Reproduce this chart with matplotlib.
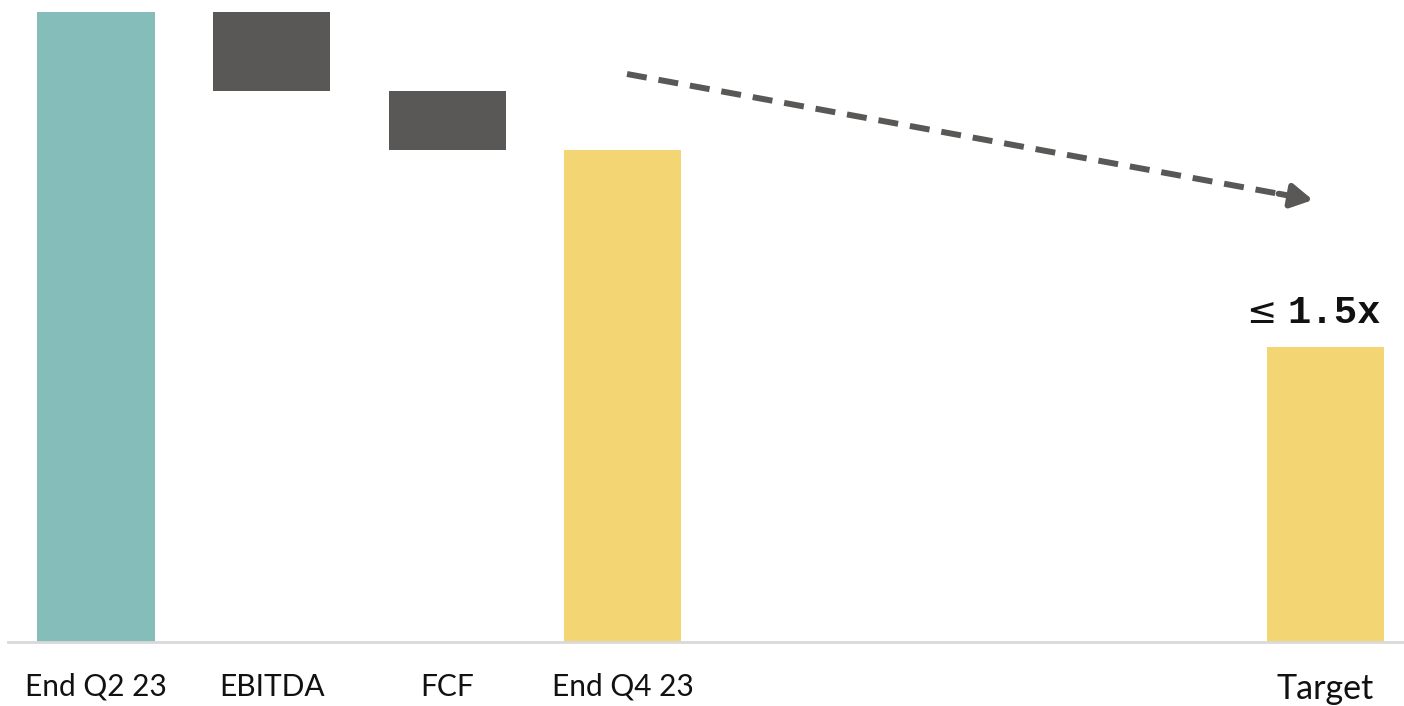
import numpy as np
import matplotlib.pyplot as plt

# waterfall data (leverage, x)
labels = ['End Q2 23', 'EBITDA', 'FCF', 'End Q4 23', 'Target']
positions = [0, 1, 2, 3, 7]
start_val = 3.2
changes = [-0.4, -0.3]
end_val = 2.5
target_val = 1.5

teal = '#85BDBA'
grey = '#595856'
yellow = '#F3D573'

fig = plt.figure(figsize=(14.04, 7.06), dpi=100)
ax = fig.add_axes([0, 0.0907, 1, 0.9093])

w = 0.667
ax.bar(positions[0], start_val, width=w, color=teal)
level = start_val
for p, c in zip(positions[1:3], changes):
    ax.bar(p, -c, bottom=level + c, width=w, color=grey)
    level += c
ax.bar(positions[3], end_val, width=w, color=yellow)
ax.bar(positions[4], target_val, width=w, color=yellow)

ax.set_xlim(-0.547, 7.449)
ax.set_ylim(0, start_val * 642 / 630)

for s in ['top', 'right', 'left']:
    ax.spines[s].set_visible(False)
ax.spines['bottom'].set_color('#D9D9D9')
ax.spines['bottom'].set_linewidth(2)
ax.spines['bottom'].set_bounds(-0.5, 7.449)
ax.set_yticks([])
ax.set_xticks(positions)
ax.tick_params(axis='x', length=0, pad=22)
ax.set_xticklabels(labels, fontsize=21.5, family='Lato', color='#111111')
ax.get_xticklabels()[-1].set_fontsize(24.5)

# trend arrow
x0, y0 = 3.024, 2.885
x1, y1 = 6.93, 2.245
t = 0.955
ax.plot([x0, x0 + (x1 - x0) * t], [y0, y0 + (y1 - y0) * t], color=grey,
        lw=4.3, dashes=(3.35, 2.0), solid_capstyle='butt', dash_capstyle='butt')
ax.annotate('', xy=(x1, y1), xytext=(x0 + (x1 - x0) * 0.95, y0 + (y1 - y0) * 0.95),
            arrowprops=dict(arrowstyle='-|>,head_length=0.8,head_width=0.45',
                            color=grey, lw=4.3, mutation_scale=16,
                            shrinkA=0, shrinkB=0))

# target label
ax.text(6.72, target_val + 0.12, '≤', fontsize=26, family='DejaVu Sans',
        ha='right', va='baseline', color='#111111')
ax.text(6.785, target_val + 0.12, '1.5x', fontsize=28, family='Liberation Mono',
        fontweight='bold', ha='left', va='baseline', color='#111111')

fig.savefig('out.png', dpi=100)
